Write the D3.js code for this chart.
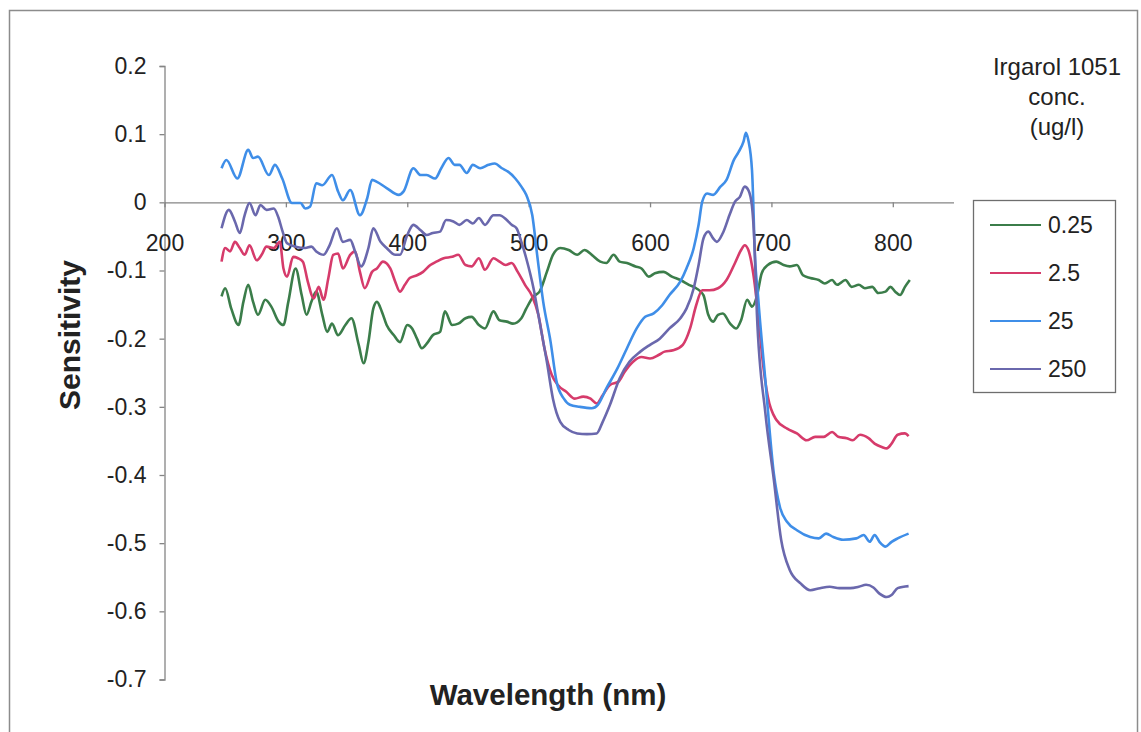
<!DOCTYPE html>
<html>
<head>
<meta charset="utf-8">
<script src="https://cdn.jsdelivr.net/npm/d3@7"></script>
<style>
  html, body { margin: 0; padding: 0; background: #ffffff; }
  svg { display: block; font-family: "Liberation Sans", Arial, sans-serif; }
</style>
</head>
<body>
<svg id="chart" width="1141" height="732"></svg>
<script>
// Sensitivity spectra for four Irgarol 1051 concentrations (ug/l)
const seriesNames = ["0.25", "2.5", "25", "250"];
const seriesColors = ["#3b7d4a", "#d63b6b", "#3f8ee8", "#6a68ad"];

const wl_0_25 = [247,250,255,261,265,269,273,277,283,288,294,298,302,308,313,317,321,325,330,334,338,343,349,354,360,364,368,372,375,379,383,389,394,400,404,408,412,417,421,427,431,437,442,448,453,459,464,471,476,482,487,494,498,504,509,515,520,526,533,540,546,552,559,564,570,575,581,588,593,599,604,611,618,625,632,638,644,648,652,656,660,666,671,675,680,684,688,692,697,704,710,715,721,726,732,739,744,750,754,761,766,772,777,783,788,794,798,802,806,810,814];
const s_0_25 = [-0.138,-0.126,-0.156,-0.180,-0.146,-0.121,-0.146,-0.165,-0.143,-0.153,-0.175,-0.180,-0.146,-0.097,-0.136,-0.165,-0.146,-0.131,-0.165,-0.190,-0.178,-0.195,-0.180,-0.170,-0.209,-0.236,-0.205,-0.156,-0.146,-0.160,-0.180,-0.195,-0.205,-0.180,-0.185,-0.200,-0.214,-0.205,-0.195,-0.190,-0.160,-0.180,-0.178,-0.170,-0.168,-0.180,-0.185,-0.160,-0.173,-0.175,-0.178,-0.170,-0.156,-0.138,-0.131,-0.102,-0.077,-0.067,-0.070,-0.077,-0.070,-0.077,-0.087,-0.089,-0.077,-0.087,-0.089,-0.094,-0.097,-0.109,-0.104,-0.102,-0.109,-0.114,-0.121,-0.126,-0.136,-0.165,-0.175,-0.165,-0.163,-0.178,-0.185,-0.173,-0.143,-0.153,-0.138,-0.104,-0.092,-0.087,-0.092,-0.094,-0.092,-0.107,-0.111,-0.114,-0.119,-0.114,-0.121,-0.114,-0.124,-0.121,-0.126,-0.124,-0.133,-0.131,-0.124,-0.131,-0.136,-0.124,-0.114];

const wl_2_5 = [247,250,254,258,262,266,270,276,280,284,290,295,298,301,306,310,314,318,323,327,331,335,339,343,347,353,357,361,365,371,375,380,386,390,394,398,402,408,413,419,424,430,437,442,448,453,459,464,471,476,481,486,491,497,503,508,513,519,524,531,538,545,551,556,561,567,574,579,586,593,600,607,612,619,627,633,638,643,649,656,663,670,675,678,681,685,689,693,697,704,713,721,729,736,743,750,755,762,767,773,780,785,791,795,799,804,810,813];
const s_2_5 = [-0.087,-0.067,-0.072,-0.058,-0.067,-0.077,-0.063,-0.085,-0.077,-0.065,-0.067,-0.058,-0.097,-0.109,-0.080,-0.082,-0.087,-0.116,-0.141,-0.124,-0.143,-0.111,-0.077,-0.075,-0.097,-0.077,-0.072,-0.102,-0.126,-0.102,-0.097,-0.087,-0.097,-0.116,-0.131,-0.121,-0.111,-0.107,-0.102,-0.092,-0.087,-0.082,-0.080,-0.077,-0.092,-0.094,-0.082,-0.099,-0.082,-0.087,-0.092,-0.089,-0.102,-0.121,-0.138,-0.165,-0.214,-0.253,-0.268,-0.278,-0.288,-0.285,-0.288,-0.295,-0.283,-0.268,-0.263,-0.249,-0.234,-0.227,-0.229,-0.224,-0.219,-0.217,-0.209,-0.185,-0.151,-0.129,-0.129,-0.126,-0.114,-0.089,-0.070,-0.063,-0.070,-0.104,-0.163,-0.236,-0.285,-0.319,-0.332,-0.339,-0.349,-0.344,-0.344,-0.337,-0.344,-0.346,-0.349,-0.341,-0.346,-0.354,-0.359,-0.361,-0.354,-0.341,-0.339,-0.343];

const wl_25 = [247,251,260,269,273,277,286,291,297,305,312,316,320,325,330,338,343,347,353,361,367,371,375,383,393,397,405,411,416,423,428,434,439,443,449,454,460,467,472,478,483,489,494,498,503,507,512,518,523,529,534,542,552,557,564,573,581,589,596,603,610,616,625,630,636,640,643,647,652,658,663,669,673,677,679,681,684,685,686,689,695,702,707,713,721,732,739,745,751,759,770,776,781,785,789,794,799,804,813];
const s_25 = [0.050,0.062,0.035,0.077,0.065,0.067,0.040,0.055,0.035,-0.001,-0.001,-0.009,-0.006,0.028,0.025,0.040,0.016,0.003,0.018,-0.019,0.006,0.033,0.030,0.021,0.011,0.016,0.050,0.040,0.040,0.035,0.050,0.065,0.055,0.055,0.043,0.055,0.050,0.055,0.057,0.050,0.045,0.035,0.023,0.011,-0.019,-0.077,-0.146,-0.204,-0.263,-0.288,-0.297,-0.300,-0.302,-0.297,-0.273,-0.244,-0.214,-0.185,-0.168,-0.163,-0.151,-0.136,-0.116,-0.097,-0.067,-0.033,0.001,0.013,0.011,0.023,0.033,0.062,0.074,0.089,0.102,0.091,0.047,0.003,-0.060,-0.138,-0.261,-0.398,-0.447,-0.469,-0.481,-0.491,-0.493,-0.486,-0.491,-0.495,-0.493,-0.488,-0.498,-0.488,-0.498,-0.505,-0.498,-0.493,-0.486];

const wl_250 = [247,253,258,262,266,270,275,279,284,290,294,297,301,308,316,321,325,331,336,342,347,353,357,362,368,372,378,383,390,394,400,405,411,416,421,427,432,438,443,449,454,459,464,471,476,482,486,490,494,498,504,509,515,520,526,533,540,548,556,561,567,575,583,592,600,608,616,625,630,636,640,644,648,652,655,660,666,670,674,678,681,684,686,688,695,702,708,715,724,732,740,748,756,765,772,778,784,789,795,799,804,813];
const s_250 = [-0.038,-0.011,-0.028,-0.045,-0.019,-0.001,-0.019,-0.004,-0.011,-0.009,-0.023,-0.041,-0.060,-0.065,-0.067,-0.065,-0.072,-0.077,-0.063,-0.038,-0.058,-0.055,-0.072,-0.094,-0.067,-0.038,-0.058,-0.067,-0.077,-0.077,-0.048,-0.033,-0.041,-0.048,-0.045,-0.043,-0.026,-0.028,-0.033,-0.026,-0.031,-0.023,-0.033,-0.019,-0.019,-0.026,-0.033,-0.038,-0.058,-0.082,-0.126,-0.175,-0.234,-0.288,-0.322,-0.334,-0.339,-0.340,-0.339,-0.322,-0.297,-0.258,-0.234,-0.219,-0.209,-0.200,-0.185,-0.170,-0.156,-0.126,-0.092,-0.053,-0.043,-0.053,-0.058,-0.045,-0.016,0.001,0.008,0.023,0.018,-0.006,-0.060,-0.162,-0.309,-0.407,-0.495,-0.539,-0.559,-0.569,-0.566,-0.564,-0.566,-0.566,-0.564,-0.561,-0.565,-0.574,-0.579,-0.576,-0.566,-0.563];

const xTicks = [200, 300, 400, 500, 600, 700, 800];
const yTicks = [0.2, 0.1, 0, -0.1, -0.2, -0.3, -0.4, -0.5, -0.6, -0.7];
const legendTitle = ["Irgarol 1051", "conc.", "(ug/l)"];

const wavelengths = [wl_0_25, wl_2_5, wl_25, wl_250];
const sensitivities = [s_0_25, s_2_5, s_25, s_250];
const series = seriesNames.map((name, i) => ({
  name,
  color: seriesColors[i],
  points: wavelengths[i].map((w, j) => ({ x: w, y: sensitivities[i][j] }))
}));

const svg = d3.select("#chart");
const axisColor = "#858585";

// outer chart frame
svg.append("rect")
  .attr("x", 9.5).attr("y", 10.5)
  .attr("width", 1128).attr("height", 740)
  .attr("fill", "#ffffff")
  .attr("stroke", "#8c8c8c").attr("stroke-width", 1.5);

const x = d3.scaleLinear().domain([200, 850]).range([164.5, 953.5]);
const y = d3.scaleLinear().domain([-0.7, 0.2]).range([679.5, 66]);

// tick labels with a plain hyphen for negatives
const fmtY = d => d === 0 ? "0" : d3.format(".1f")(d).replace("\u2212", "-");

// vertical value axis
const yAxis = svg.append("g")
  .attr("transform", `translate(${x(200)},0)`)
  .call(d3.axisLeft(y).tickValues(yTicks).tickSize(5).tickPadding(13).tickFormat(fmtY));
yAxis.select(".domain").attr("stroke", axisColor).attr("stroke-width", 1.3);
yAxis.selectAll(".tick line").attr("stroke", axisColor).attr("stroke-width", 1.3);
yAxis.selectAll(".tick text")
  .attr("font-size", 23).attr("fill", "#222");

// horizontal category axis crossing at zero
const xAxis = svg.append("g")
  .attr("transform", `translate(0,${y(0)})`)
  .call(d3.axisBottom(x).tickValues(xTicks).tickSize(5).tickPadding(27).tickSizeOuter(0));
xAxis.select(".domain").attr("stroke", axisColor).attr("stroke-width", 1.3);
xAxis.selectAll(".tick line").attr("stroke", axisColor).attr("stroke-width", 1.3);
xAxis.selectAll(".tick text")
  .attr("font-size", 23).attr("fill", "#222");

// spectra
const line = d3.line()
  .x(d => x(d.x))
  .y(d => y(d.y))
  .curve(d3.curveMonotoneX);

svg.append("g").selectAll("path")
  .data(series)
  .join("path")
  .attr("d", d => line(d.points))
  .attr("fill", "none")
  .attr("stroke", d => d.color)
  .attr("stroke-width", 2.6)
  .attr("stroke-linejoin", "round");

// axis titles
svg.append("text")
  .attr("x", 548).attr("y", 705)
  .attr("text-anchor", "middle")
  .attr("font-size", 29.5).attr("font-weight", "bold").attr("fill", "#222")
  .text("Wavelength (nm)");

svg.append("text")
  .attr("transform", "translate(80,335) rotate(-90)")
  .attr("text-anchor", "middle")
  .attr("font-size", 30).attr("font-weight", "bold").attr("fill", "#222")
  .text("Sensitivity");

// legend title
svg.append("g").selectAll("text")
  .data(legendTitle)
  .join("text")
  .attr("x", 1057)
  .attr("y", (d, i) => 75 + i * 30)
  .attr("text-anchor", "middle")
  .attr("font-size", 24).attr("fill", "#222")
  .text(d => d);

// legend box
const legend = svg.append("g");
legend.append("rect")
  .attr("x", 973.5).attr("y", 200.5)
  .attr("width", 142).attr("height", 192)
  .attr("fill", "#ffffff")
  .attr("stroke", "#6e6e6e").attr("stroke-width", 1.3);

const rows = legend.selectAll("g.row")
  .data(series)
  .join("g")
  .attr("class", "row")
  .attr("transform", (d, i) => `translate(0,${225 + i * 48})`);
rows.append("line")
  .attr("x1", 990).attr("x2", 1041)
  .attr("y1", 0).attr("y2", 0)
  .attr("stroke", d => d.color).attr("stroke-width", 2);
rows.append("text")
  .attr("x", 1048).attr("y", 0)
  .attr("dy", "0.35em")
  .attr("font-size", 23).attr("fill", "#222")
  .text(d => d.name);
</script>
</body>
</html>
